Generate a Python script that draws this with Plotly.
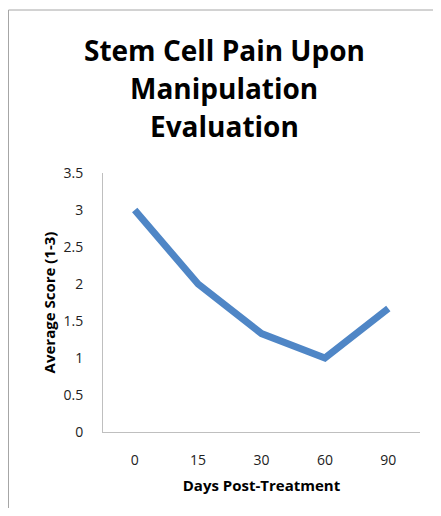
import plotly.graph_objects as go

days = ["0", "15", "30", "60", "90"]
avg_score = [3.0, 2.0, 1.33, 1.0, 1.67]
y_ticks = [0, 0.5, 1, 1.5, 2, 2.5, 3, 3.5]
y_tick_labels = ["0", "0.5", "1", "1.5", "2", "2.5", "3", "3.5"]
title_lines = ["Stem Cell Pain Upon", "Manipulation", "Evaluation"]

FONT = "Open Sans"

# page has an 8px body margin, so the figure is a bit smaller than the window
W, H = 433, 500
L, R, T, B = 95, 21, 165, 76
PW, PH = W - L - R, H - T - B

fig = go.Figure(go.Scatter(
    x=days,
    y=avg_score,
    mode="lines",
    line=dict(color="#4F86C6", width=7),
    hoverinfo="x+y",
))

fig.update_layout(
    width=W,
    height=H,
    margin=dict(l=L, r=R, t=T, b=B, autoexpand=False),
    paper_bgcolor="white",
    plot_bgcolor="white",
    showlegend=False,
    font=dict(family=FONT, color="#000000"),
)

# title as three stacked lines, centred on the page
for i, line in enumerate(title_lines):
    fig.add_annotation(
        text="<b>%s</b>" % line,
        xref="paper", yref="paper",
        x=0.5 - (L + PW / 2 - 216) / PW, y=1 + (T - 42 - 38 * i) / PH,
        xanchor="center", yanchor="middle",
        showarrow=False,
        font=dict(family=FONT, size=28, color="#000000"),
    )

fig.update_xaxes(
    type="category",
    range=[-0.5, 4.5],
    automargin=False,
    showgrid=False,
    zeroline=False,
    showline=True,
    linecolor="#BFBFBF",
    linewidth=1,
    ticks="outside",
    ticklen=15,
    tickcolor="rgba(0,0,0,0)",
    tickfont=dict(family=FONT, size=14, color="#222222"),
    title=dict(text="<b>Days Post-Treatment</b>", standoff=12,
               font=dict(family=FONT, size=15, color="#000000")),
)

fig.update_yaxes(
    range=[0, 3.5],
    tickvals=y_ticks,
    ticktext=y_tick_labels,
    automargin=False,
    showgrid=False,
    zeroline=False,
    showline=True,
    linecolor="#BFBFBF",
    linewidth=1,
    ticks="outside",
    ticklen=16,
    tickcolor="rgba(0,0,0,0)",
    tickfont=dict(family=FONT, size=14, color="#222222"),
    title=dict(text="<b>Average Score (1-3)</b>", standoff=4,
               font=dict(family=FONT, size=15, color="#000000")),
)

# chart frame: only the left and top edges fall inside the picture
fx = -L / PW + 0.5 / PW
fy = 1 + (T - 2) / PH
fig.add_shape(type="line", xref="paper", yref="paper",
              x0=fx, x1=fx, y0=-0.5, y1=fy,
              line=dict(color="#A6A6A6", width=1))
fig.add_shape(type="line", xref="paper", yref="paper",
              x0=fx, x1=1.2, y0=fy, y1=fy,
              line=dict(color="#A6A6A6", width=1))

fig.write_html("out.html")
